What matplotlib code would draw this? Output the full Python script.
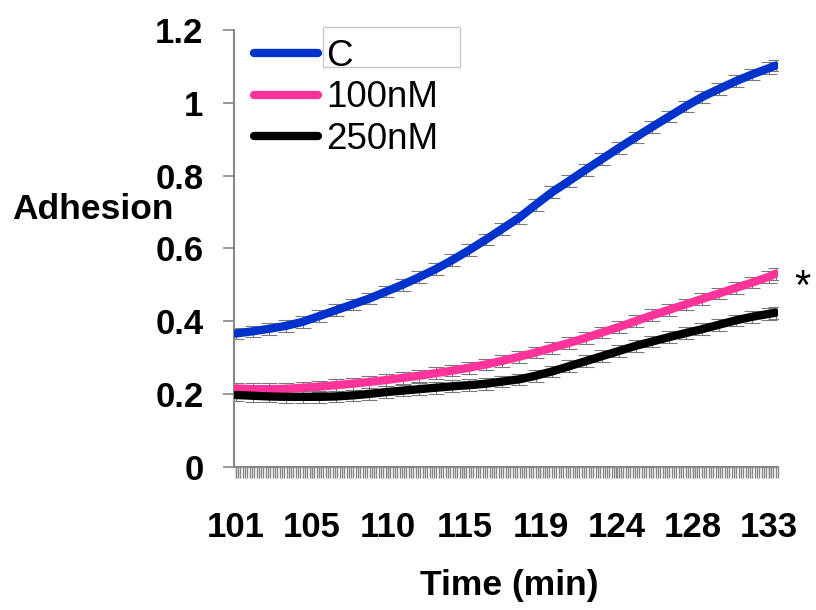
import matplotlib
matplotlib.use("Agg")
import matplotlib.pyplot as plt
from matplotlib.ticker import MultipleLocator, FixedLocator
from matplotlib.patches import Rectangle

plt.rcParams['font.family'] = ['Liberation Sans', 'DejaVu Sans']

# ---- data ----
time_min = [101, 102, 103, 104, 105, 106, 107, 108, 109, 110, 111, 112, 113, 114,
            115, 116, 117, 118, 119, 120, 121, 122, 123, 124, 125, 126, 127, 128,
            129, 130, 131, 132, 133, 133.4]

adh_C = [0.366, 0.372, 0.379, 0.387, 0.398, 0.414, 0.430, 0.446, 0.462, 0.481,
         0.500, 0.521, 0.543, 0.568, 0.595, 0.624, 0.654, 0.684, 0.720, 0.755,
         0.785, 0.816, 0.846, 0.876, 0.905, 0.934, 0.962, 0.990, 1.016, 1.038,
         1.059, 1.078, 1.095, 1.102]

adh_100 = [0.215, 0.213, 0.213, 0.214, 0.217, 0.220, 0.224, 0.228, 0.233, 0.238,
           0.244, 0.250, 0.257, 0.264, 0.272, 0.281, 0.291, 0.302, 0.314, 0.327,
           0.340, 0.354, 0.369, 0.384, 0.400, 0.416, 0.431, 0.446, 0.461, 0.476,
           0.491, 0.506, 0.522, 0.530]

adh_250 = [0.197, 0.195, 0.193, 0.192, 0.192, 0.192, 0.193, 0.196, 0.200, 0.205,
           0.209, 0.213, 0.217, 0.221, 0.224, 0.228, 0.234, 0.240, 0.250, 0.262,
           0.276, 0.290, 0.304, 0.318, 0.332, 0.344, 0.356, 0.367, 0.378, 0.390,
           0.402, 0.412, 0.420, 0.423]

err_C = 0.016
err_100 = 0.016
err_250 = 0.016

series_names = ['C', '100nM', '250nM']
series_colors = ['#0033CC', '#FF3399', '#000000']

x_tick_labels = ['101', '105', '110', '115', '119', '124', '128', '133']
y_ticks = [0, 0.2, 0.4, 0.6, 0.8, 1.0, 1.2]
y_tick_labels = ['0', '0.2', '0.4', '0.6', '0.8', '1', '1.2']

# ---- figure ----
fig = plt.figure(figsize=(8.16, 6.10), dpi=100)
ax = fig.add_axes([234/816, 1-466.7/610, (778-234)/816, (466.7-30)/610])

grey = '#888888'
for vals, err, name, col in zip([adh_C, adh_100, adh_250], [err_C, err_100, err_250],
                                series_names, series_colors):
    ax.errorbar(time_min, vals, yerr=err, fmt='none', ecolor='#7a7a7a',
                elinewidth=0.8, capsize=6, capthick=0.8, zorder=2)
    ax.plot(time_min, vals, color=col, lw=6, solid_capstyle='round',
            solid_joinstyle='round', label=name, zorder=3)

ax.set_xlim(100.88, 133.55)
ax.set_ylim(0, 1.2)

step = 32 / 7
ax.xaxis.set_major_locator(FixedLocator([101 + k*step for k in range(len(x_tick_labels))]))
ax.set_xticklabels(x_tick_labels)
ax.xaxis.set_minor_locator(MultipleLocator(step / 33))
ax.set_yticks(y_ticks)
ax.set_yticklabels(y_tick_labels)

for s in ['top', 'right']:
    ax.spines[s].set_visible(False)
for s in ['left', 'bottom']:
    ax.spines[s].set_color(grey)
    ax.spines[s].set_linewidth(1.5)

ax.tick_params(axis='x', which='both', direction='out', length=8, width=1,
               color=grey, pad=24, labelsize=25)
ax.tick_params(axis='y', which='major', direction='out', length=8, width=1.2,
               color=grey, pad=14, labelsize=25)
for lab in ax.get_xticklabels() + ax.get_yticklabels():
    lab.set_fontweight('bold')

fig.text(12/816, 1-219/610, 'Adhesion', fontsize=25.5, fontweight='bold',
         ha='left', va='baseline')
fig.text(509/816, 1-585/610, 'Time (min)', fontsize=25.5, fontweight='bold',
         ha='center', va='center')
fig.text(802/816, 1-288/610, '*', fontsize=30, fontweight='normal',
         ha='center', va='center')

# box around first legend entry
ax.add_artist(Rectangle((323/816, 1-67/610), (460-323)/816, (67-27)/610,
                        transform=fig.transFigure, facecolor='white',
                        edgecolor='#c8c8c8', lw=1, zorder=4, clip_on=False))

leg = ax.legend(loc='upper left', bbox_to_anchor=(254/816, 1-39/610),
                bbox_transform=fig.transFigure, frameon=False, fontsize=26.5,
                handlelength=1.74, handletextpad=0.22, labelspacing=0.175,
                borderpad=0, borderaxespad=0)
for line in leg.get_lines():
    line.set_linewidth(6)
    line.set_solid_capstyle('round')
leg.set_zorder(5)

fig.savefig('out.png', dpi=100)
